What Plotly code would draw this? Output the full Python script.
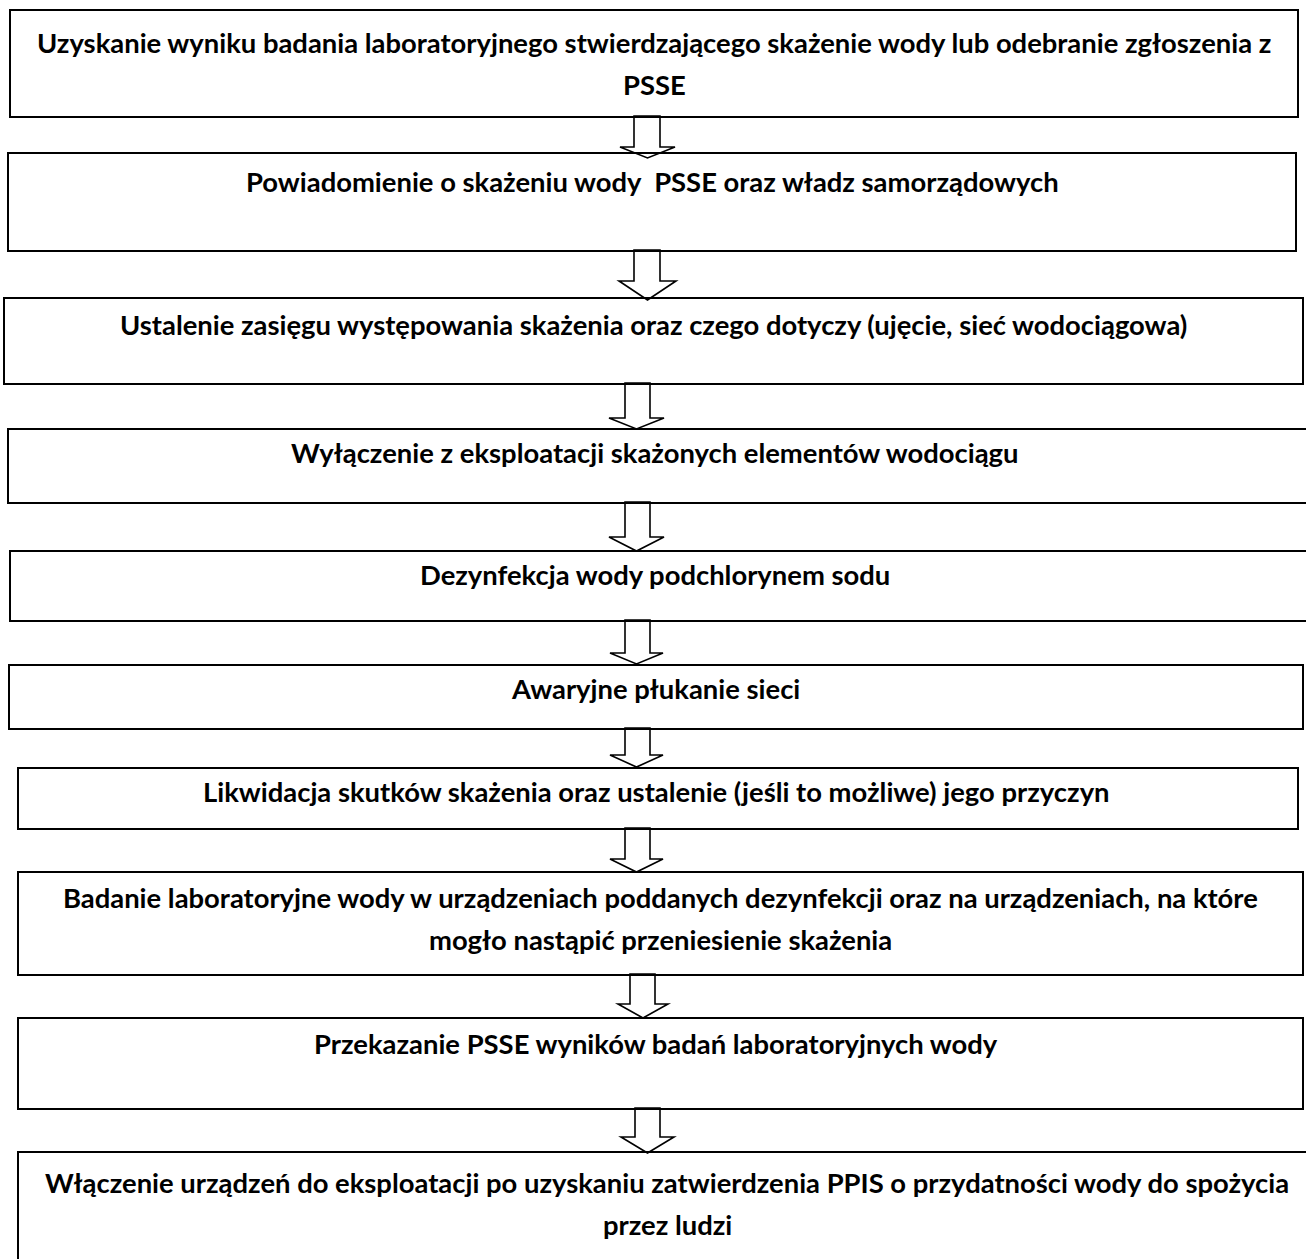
import plotly.graph_objects as go

# ---- content ----
steps = [
    ["Uzyskanie wyniku badania laboratoryjnego stwierdzającego skażenie wody lub odebranie zgłoszenia z", "PSSE"],
    ["Powiadomienie o skażeniu wody  PSSE oraz władz samorządowych"],
    ["Ustalenie zasięgu występowania skażenia oraz czego dotyczy (ujęcie, sieć wodociągowa)"],
    ["Wyłączenie z eksploatacji skażonych elementów wodociągu"],
    ["Dezynfekcja wody podchlorynem sodu"],
    ["Awaryjne płukanie sieci"],
    ["Likwidacja skutków skażenia oraz ustalenie (jeśli to możliwe) jego przyczyn"],
    ["Badanie laboratoryjne wody w urządzeniach poddanych dezynfekcji oraz na urządzeniach, na które",
     "mogło nastąpić przeniesienie skażenia"],
    ["Przekazanie PSSE wyników badań laboratoryjnych wody"],
    ["Włączenie urządzeń do eksploatacji po uzyskaniu zatwierdzenia PPIS o przydatności wody do spożycia",
     "przez ludzi"],
]

# ---- layout geometry (pixels) ----
W, H = 1306, 1259
box_left = [10, 8, 4, 8, 10, 9, 18, 18, 18, 18]
box_right = [1298, 1296, 1303, 1310, 1310, 1303, 1298, 1303, 1303, 1316]
box_top = [10, 153, 298, 429, 551, 665, 768, 872, 1018, 1152]
box_bottom = [117, 251, 384, 503, 621, 729, 829, 975, 1109, 1270]
text_x = [654, 652, 653, 655, 655, 655, 656, 660, 656, 667]
text_y = [42, 181, 324, 452, 574, 688, 791, 897, 1043, 1182]
line_gap = 42

arr_shaft_l = [634, 634, 625, 625, 625, 625, 625, 630, 635]
arr_shaft_r = [660, 660, 650, 650, 650, 650, 650, 655, 660]
arr_head_l = [620, 619, 609, 609, 610, 610, 610, 618, 621]
arr_head_r = [675, 676, 664, 664, 663, 663, 663, 668, 674]
arr_head_y = [147, 281, 418, 537, 653, 755, 859, 1004, 1137]
arr_tip_y = [158, 300, 429, 551, 664, 767, 872, 1018, 1153]

FONT = dict(family="Lato, 'Open Sans', sans-serif", size=27.4, color="black")

fig = go.Figure()
fig.add_trace(go.Scatter(x=[0, W], y=[0, H], mode="markers",
                         marker=dict(opacity=0), hoverinfo="skip", showlegend=False))

shapes = []
for l, r, t, b in zip(box_left, box_right, box_top, box_bottom):
    shapes.append(dict(type="rect", xref="x", yref="y", x0=l, x1=r, y0=t, y1=b,
                       line=dict(color="black", width=2), fillcolor="rgba(0,0,0,0)"))

for i in range(len(arr_tip_y)):
    sl, sr = arr_shaft_l[i], arr_shaft_r[i]
    hl, hr = arr_head_l[i], arr_head_r[i]
    top = box_bottom[i] - 1
    hy, ty = arr_head_y[i], arr_tip_y[i]
    tx = (hl + hr) / 2
    path = (f"M {sl},{top} L {sr},{top} L {sr},{hy} L {hr},{hy} L {tx},{ty} "
            f"L {hl},{hy} L {sl},{hy} Z")
    shapes.append(dict(type="path", xref="x", yref="y", path=path,
                       line=dict(color="black", width=1.6), fillcolor="rgba(0,0,0,0)"))

annotations = []
for lines, x, y in zip(steps, text_x, text_y):
    for k, line in enumerate(lines):
        annotations.append(dict(x=x, y=y + k * line_gap, xref="x", yref="y",
                                text=f"<b>{line}</b>", showarrow=False,
                                xanchor="center", yanchor="middle", font=FONT))

fig.update_layout(
    width=W, height=H,
    margin=dict(l=0, r=0, t=0, b=0),
    paper_bgcolor="white", plot_bgcolor="white",
    xaxis=dict(range=[0, W], visible=False, fixedrange=True),
    yaxis=dict(range=[H, 0], visible=False, fixedrange=True),
    shapes=shapes, annotations=annotations, showlegend=False,
)

fig.write_html("out.html", config={"displayModeBar": False},
               post_script="document.body.style.margin='0';document.body.style.overflow='hidden';")
